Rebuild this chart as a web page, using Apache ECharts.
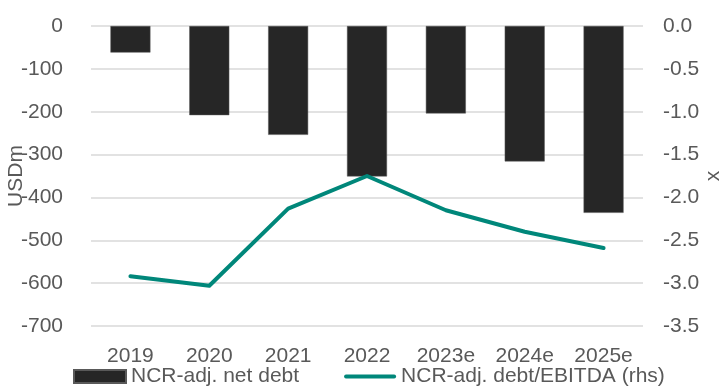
<!DOCTYPE html>
<html>
<head>
<meta charset="utf-8">
<script src="https://cdn.jsdelivr.net/npm/echarts@6/dist/echarts.min.js"></script>
<style>
  html, body { margin: 0; padding: 0; background: #fff; }
  #main { width: 719px; height: 387px; }
</style>
</head>
<body>
<div id="main"></div>
<script>
// 年份
const years = ['2019', '2020', '2021', '2022', '2023e', '2024e', '2025e'];
// 净债务 (USDm)
const netDebt = [-62, -208, -254, -351, -204, -316, -436];
// 债务/EBITDA (rhs)
const debtEbitda = [-2.92, -3.03, -2.13, -1.75, -2.15, -2.40, -2.59];

const textColor = '#595959';
const fontFamily = '"Liberation Sans", Arial, sans-serif';
const fs = 21;

const chart = echarts.init(document.getElementById('main'));
const option = {
  animation: false,
  textStyle: { fontFamily: fontFamily },
  grid: {
    left: 91,
    right: 76,
    top: 26,
    bottom: 61,
    outerBoundsMode: 'none'
  },
  legend: {
    left: 68,
    top: 361,
    itemGap: 45,
    textStyle: { color: textColor, fontSize: fs, fontFamily: fontFamily },
    data: [
      { name: 'NCR-adj. net debt', icon: 'rect', itemStyle: { color: '#262626' } },
      {
        name: 'NCR-adj. debt/EBITDA (rhs)',
        icon: 'path://M2,0 L53,0 A2,2 0 0 1 53,4 L2,4 A2,2 0 0 1 2,0 Z',
        itemStyle: { color: '#00877a' }
      }
    ],
    itemWidth: 52,
    itemHeight: 13
  },
  xAxis: {
    type: 'category',
    data: years,
    axisLine: { show: false },
    axisTick: { show: false },
    axisLabel: { color: textColor, fontSize: fs, margin: 20 }
  },
  yAxis: [
    {
      type: 'value',
      name: 'USDm',
      nameLocation: 'middle',
      nameGap: 64,
      nameMoveOverlap: false,
      nameTextStyle: { color: textColor, fontSize: fs },
      min: -700,
      max: 0,
      interval: 100,
      axisLabel: { color: textColor, fontSize: fs, margin: 28 },
      splitLine: { lineStyle: { color: '#d9d9d9', width: 1.5 } }
    },
    {
      type: 'value',
      name: 'x',
      nameLocation: 'middle',
      nameGap: 60,
      nameMoveOverlap: false,
      nameTextStyle: { color: textColor, fontSize: fs },
      min: -3.5,
      max: 0,
      interval: 0.5,
      axisLabel: {
        color: textColor,
        fontSize: fs,
        margin: 20,
        formatter: function (v) { return v.toFixed(1); }
      },
      splitLine: { show: false }
    }
  ],
  series: [
    {
      name: 'NCR-adj. net debt',
      type: 'bar',
      data: netDebt,
      barWidth: 40,
      itemStyle: { color: '#262626', borderColor: '#595959', borderWidth: 0.5 }
    },
    {
      name: 'NCR-adj. debt/EBITDA (rhs)',
      type: 'line',
      yAxisIndex: 1,
      data: debtEbitda,
      symbol: 'none',
      lineStyle: { color: '#00877a', width: 4, cap: 'round', join: 'round' },
      itemStyle: { color: '#00877a' }
    }
  ]
};
chart.setOption(option);
</script>
</body>
</html>
